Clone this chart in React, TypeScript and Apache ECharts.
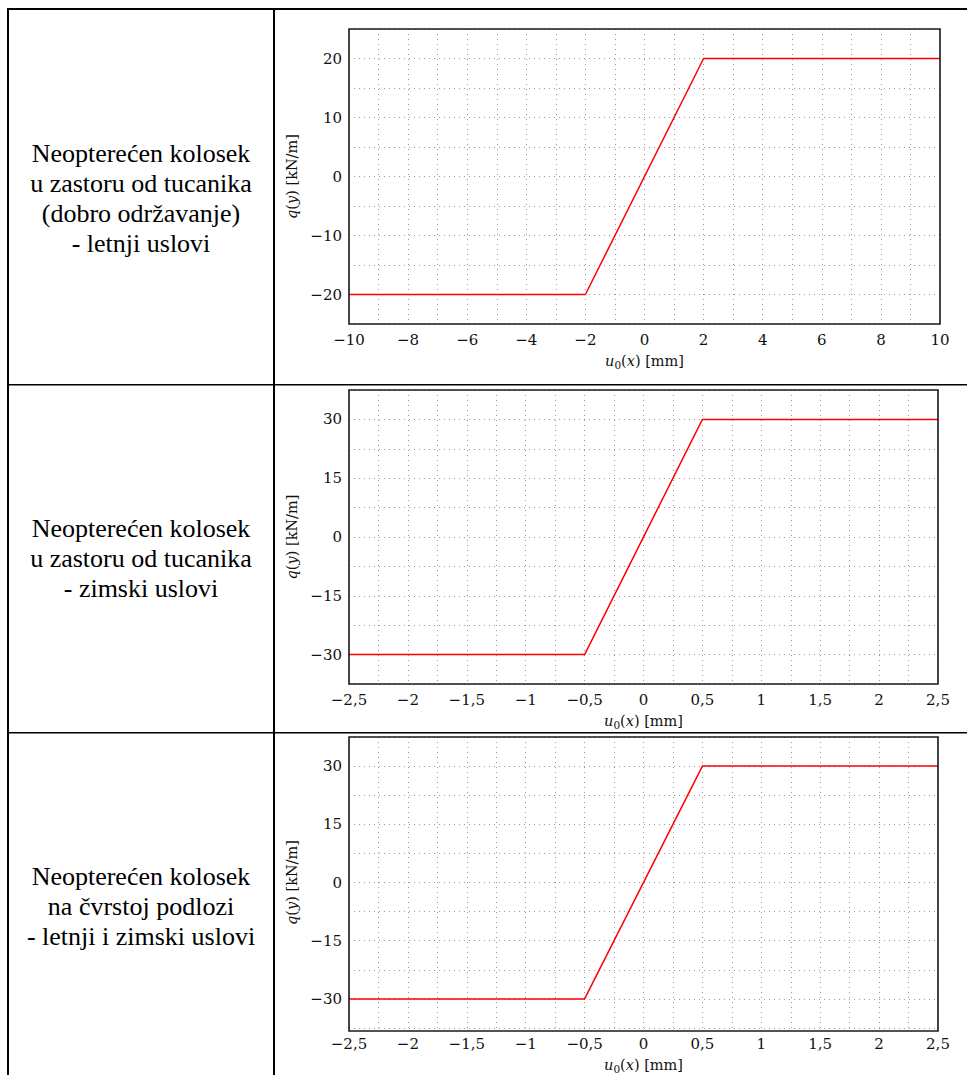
import React, { useEffect, useRef } from "react";
import * as echarts from "echarts";

// ---- Data ----
const X1 = [-10, -2, 2, 10];
const Y1 = [-20, -20, 20, 20];
const X2 = [-2.5, -0.5, 0.5, 2.5];
const Y2 = [-30, -30, 30, 30];
const X3 = [-2.5, -0.5, 0.5, 2.5];
const Y3 = [-30, -30, 30, 30];

const ROW1 = ["Neopterećen kolosek", "u zastoru od tucanika", "(dobro održavanje)", "- letnji uslovi"];
const ROW2 = ["Neopterećen kolosek", "u zastoru od tucanika", "- zimski uslovi"];
const ROW3 = ["Neopterećen kolosek", "na čvrstoj podlozi", "- letnji i zimski uslovi"];

// axis ranges: [min, max, gridStep, labelStep]
const XR1 = [-10, 10, 1, 2];
const YR1 = [-25, 25, 5, 10];
const XR2 = [-2.5, 2.5, 0.25, 0.5];
const YR2 = [-37.5, 37.5, 7.5, 15];
const XR3 = [-2.5, 2.5, 0.25, 0.5];
const YR3 = [-37.5, 37.5, 7.5, 15];

const TICK_FONT = "DejaVu Serif";
const TEXT_FONT = "Liberation Serif";

const GRIDS = [
  { left: 349, top: 29, width: 591, height: 295 },
  { left: 349, top: 390, width: 589, height: 294 },
  { left: 349, top: 737, width: 589, height: 294 },
];

const isMult = (v: number, s: number) => Math.abs(v / s - Math.round(v / s)) < 1e-6;
const fmt = (v: number) =>
  String(Math.round(v * 1000) / 1000).replace("-", "\u2212").replace(".", ",");

const nameRich = {
  i: { fontFamily: TICK_FONT, fontStyle: "italic", fontSize: 14.5, color: "#111", lineHeight: 18 },
  n: { fontFamily: TICK_FONT, fontSize: 14.5, color: "#111", lineHeight: 18 },
  s: { fontFamily: TICK_FONT, fontSize: 10.5, color: "#111", lineHeight: 19, verticalAlign: "bottom" },
};

const gridLine = { show: true, lineStyle: { color: "#9a9a9a", width: 1, type: [1, 4] } };

function xAxis(i: number, r: number[]) {
  return {
    type: "value",
    gridIndex: i,
    min: r[0],
    max: r[1],
    interval: r[2],
    axisLine: { show: false },
    axisTick: { show: false },
    splitLine: gridLine,
    axisLabel: {
      margin: 8,
      showMinLabel: true,
      showMaxLabel: true,
      color: "#111",
      fontFamily: TICK_FONT,
      fontSize: 15,
      formatter: (v: number) => (isMult(v, r[3]) ? fmt(v) : ""),
    },
    name: "{i|u}{s|0}{n|(}{i|x}{n|) [mm]}",
    nameLocation: "middle",
    nameGap: 27,
    nameTextStyle: { rich: nameRich },
  };
}

function yAxis(i: number, r: number[]) {
  return {
    type: "value",
    gridIndex: i,
    min: r[0],
    max: r[1],
    interval: r[2],
    axisLine: { show: false },
    axisTick: { show: false },
    splitLine: gridLine,
    axisLabel: {
      margin: 7,
      color: "#111",
      fontFamily: TICK_FONT,
      fontSize: 15,
      formatter: (v: number) => (isMult(v, r[3]) ? fmt(v) : ""),
    },
    name: "{i|q}{n|(}{i|y}{n|) [kN/m]}",
    nameLocation: "middle",
    nameRotate: 90,
    nameGap: 37,
    nameTextStyle: { rich: nameRich },
  };
}

function series(i: number, xs: number[], ys: number[]) {
  return {
    type: "line",
    xAxisIndex: i,
    yAxisIndex: i,
    showSymbol: false,
    silent: true,
    data: xs.map((x, k) => [x, ys[k]]),
    lineStyle: { color: "#ff0000", width: 1.5 },
    z: 5,
  };
}

function cellText(lines: string[], cx: number, cy: number) {
  return {
    type: "text",
    x: cx,
    y: cy,
    style: {
      text: lines.join("\n"),
      font: `26px "${TEXT_FONT}"`,
      fill: "#000",
      textAlign: "center",
      textVerticalAlign: "middle",
      lineHeight: 30,
    },
  };
}

function bar(x: number, y: number, w: number, h: number) {
  return { type: "rect", shape: { x, y, width: w, height: h }, style: { fill: "#000" }, z: 10 };
}

function frame(g: { left: number; top: number; width: number; height: number }) {
  return {
    type: "rect",
    shape: { x: g.left, y: g.top, width: g.width, height: g.height },
    style: { fill: "none", stroke: "#1a1a1a", lineWidth: 1.6 },
    z: 20,
    silent: true,
  };
}

export default function App() {
  const ref = useRef<HTMLDivElement>(null);
  useEffect(() => {
    if (!ref.current) return;
    const chart = echarts.init(ref.current, null, { renderer: "svg" });
    chart.setOption({
      animation: false,
      backgroundColor: "#fff",
      grid: GRIDS.map((g) => ({ ...g, show: false })),
      xAxis: [xAxis(0, XR1), xAxis(1, XR2), xAxis(2, XR3)],
      yAxis: [yAxis(0, YR1), yAxis(1, YR2), yAxis(2, YR3)],
      series: [series(0, X1, Y1), series(1, X2, Y2), series(2, X3, Y3)],
      graphic: [
        ...GRIDS.map(frame),
        bar(7, 8, 960, 2),
        bar(7, 8, 2, 1067),
        bar(273, 8, 2, 1067),
        bar(7, 384, 960, 1.5),
        bar(7, 732, 960, 1.5),
        cellText(ROW1, 141, 198),
        cellText(ROW2, 141, 558),
        cellText(ROW3, 141, 906),
      ],
    });
    return () => chart.dispose();
  }, []);
  return (
    <div
      ref={ref}
      style={{ position: "fixed", left: 0, top: 0, width: 967, height: 1075, background: "#fff" }}
    />
  );
}
